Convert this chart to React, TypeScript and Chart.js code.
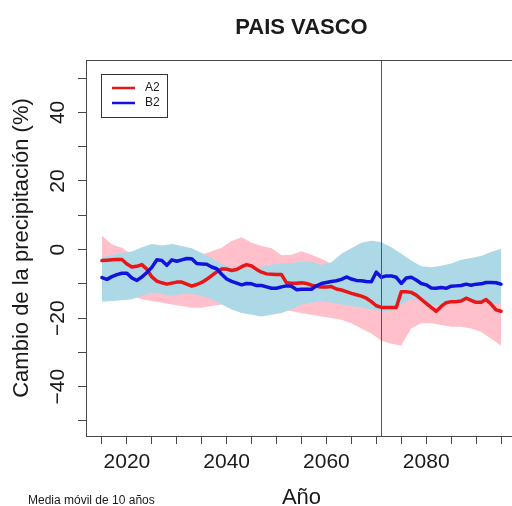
import React, { useEffect, useRef } from 'react';
import { Chart, registerables } from 'chart.js';

Chart.register(...registerables);

// ---------- data ----------
const years = [
  2015, 2016, 2017, 2018, 2019, 2020, 2021, 2022, 2023, 2024,
  2025, 2026, 2027, 2028, 2029, 2030, 2031, 2032, 2033, 2034,
  2035, 2036, 2037, 2038, 2039, 2040, 2041, 2042, 2043, 2044,
  2045, 2046, 2047, 2048, 2049, 2050, 2051, 2052, 2053, 2054,
  2055, 2056, 2057, 2058, 2059, 2060, 2061, 2062, 2063, 2064,
  2065, 2066, 2067, 2068, 2069, 2070, 2071, 2072, 2073, 2074,
  2075, 2076, 2077, 2078, 2079, 2080, 2081, 2082, 2083, 2084,
  2085, 2086, 2087, 2088, 2089, 2090, 2091, 2092, 2093, 2094,
  2095,
];

const a2 = [
  -3.2, -3.1, -3.0, -2.9, -2.9, -4.2, -5.1, -4.9, -4.4, -5.7,
  -8.0, -9.2, -9.7, -10.1, -9.8, -9.5, -9.5, -10.1, -10.7, -10.2,
  -9.6, -8.7, -7.6, -6.5, -5.7, -5.7, -6.1, -5.8, -5.0, -4.4,
  -4.8, -5.8, -6.6, -7.1, -7.2, -7.3, -7.3, -9.7, -9.8, -9.8,
  -9.7, -9.9, -10.4, -10.7, -10.9, -10.9, -10.8, -11.5, -11.8, -12.3,
  -12.8, -13.2, -13.6, -14.2, -15.2, -16.4, -16.9, -16.9, -16.9, -16.9,
  -12.3, -12.3, -12.5, -13.3, -14.5, -15.7, -16.9, -18.0, -16.6, -15.5,
  -15.2, -15.2, -15.0, -14.2, -14.8, -15.4, -15.4, -14.6, -15.9, -17.6,
  -18.0,
];

const b2 = [
  -8.2, -8.7, -7.9, -7.3, -6.9, -6.9, -8.3, -9.0, -8.0, -6.7,
  -5.2, -3.0, -3.2, -4.6, -3.0, -3.4, -3.0, -2.6, -2.7, -4.1,
  -4.2, -4.3, -5.1, -5.6, -7.2, -8.6, -9.3, -9.8, -10.3, -9.9,
  -10.0, -10.5, -10.5, -10.9, -11.3, -11.3, -10.9, -10.6, -10.7, -11.7,
  -11.6, -11.6, -11.6, -10.6, -9.9, -9.6, -9.3, -9.1, -8.7, -8.0,
  -8.6, -9.0, -9.1, -9.3, -9.4, -6.6, -8.1, -7.7, -7.7, -8.1,
  -9.9, -8.3, -8.1, -8.9, -9.9, -10.3, -11.2, -11.3, -11.1, -11.3,
  -10.7, -10.6, -10.5, -10.1, -10.4, -10.1, -10.0, -9.6, -9.6, -9.7,
  -10.1,
];

const bandYears = [
  2015, 2017, 2019, 2021, 2023, 2025, 2027, 2029, 2031, 2033,
  2035, 2037, 2039, 2041, 2043, 2045, 2047, 2049, 2051, 2053,
  2055, 2057, 2059, 2061, 2063, 2065, 2067, 2069, 2071, 2073,
  2075, 2077, 2079, 2081, 2083, 2085, 2087, 2089, 2091, 2093,
  2095,
];

const a2Upper = [
  4.0, 1.5, 0.5, -1.5, -2.5, -3.5, -3.0, -2.5, -2.5, -2.0,
  -1.5, -0.5, 0.5, 2.5, 3.6, 2.0, 1.0, 0.4, -1.7, -1.5,
  -0.5, -1.5, -2.7, -4.2, -5.5, -6.0, -6.5, -7.0, -7.5, -7.5,
  -5.0, -5.5, -7.0, -8.0, -8.0, -7.5, -7.5, -7.0, -7.0, -7.5,
  -8.0,
];

const a2Lower = [
  -13.0, -13.0, -13.0, -13.5, -14.5, -15.0, -15.5, -16.0, -16.5, -17.0,
  -17.0, -16.5, -16.0, -16.0, -16.0, -17.0, -17.5, -17.5, -17.5, -18.0,
  -18.5, -19.0, -19.5, -20.0, -20.5, -21.5, -23.0, -24.5, -26.6, -27.5,
  -28.0, -23.0, -21.5, -21.5, -22.0, -22.5, -22.5, -23.0, -24.0, -26.0,
  -28.0,
];

const b2Upper = [
  -2.2, -1.6, -1.0, -0.6, 0.7, 1.6, 1.2, 1.6, 1.0, 0.4,
  -1.0, -2.5, -4.2, -5.2, -5.5, -5.5, -5.0, -4.5, -4.0, -4.0,
  -3.5, -3.5, -4.5, -3.7, -1.2, 0.4, 2.0, 2.6, 2.1, 0.7,
  -1.2, -3.2, -4.9, -5.2, -4.7, -4.1, -3.0, -2.5, -1.9, -0.7,
  0.2,
];

const b2Lower = [
  -15.2, -15.0, -14.8, -14.5, -13.5, -12.5, -13.0, -13.5, -13.0, -13.0,
  -13.5, -14.5, -16.0, -17.5, -18.5, -19.0, -19.5, -19.0, -18.5, -17.5,
  -16.0, -15.5, -15.0, -15.5, -16.0, -16.5, -17.0, -17.5, -18.0, -18.0,
  -16.0, -14.5, -15.0, -16.5, -16.0, -15.5, -15.5, -15.0, -15.0, -15.5,
  -16.0,
];

const seriesLabels = ['A2', 'B2'];
const xTickLabels = [2020, 2040, 2060, 2080];
const yTickLabels = [-40, -20, 0, 20, 40];
const markerYear = 2071;
const xMin = 2011.8;
const xMax = 2098.2;
const yMin = -54.4;
const yMax = 55.3;

const titleText = 'PAIS VASCO';
const xTitleText = 'Año';
const yTitleText = 'Cambio de la precipitación (%)';
const footnoteText = 'Media móvil de 10 años';

// ---------- styles ----------
const FONT = "'Liberation Sans', Arial, Helvetica, sans-serif";
const RED = 'rgb(232,22,22)';
const BLUE = 'rgb(18,18,222)';
const PINK = '#FFC0CB';
const LIGHTBLUE = '#ADD8E6';
const FRAME = '#474747';
const TEXT = '#1a1a1a';
// the plot frame of the original runs a few pixels past the right edge of the picture
const CANVAS_W = 517;
const VIEW_W = 512;
const VIEW_H = 506;

const pts = (xs: number[], ys: number[]) => xs.map((x, i) => ({ x, y: ys[i] }));
const fmtNum = (v: number) => (v < 0 ? '\u2212' + Math.abs(v) : String(v));

const decorPlugin = {
  id: 'decor',
  afterDatasetsDraw(chart: any) {
    const { ctx, chartArea: ca, scales } = chart;
    ctx.save();
    // vertical reference line
    const vx = Math.round(scales.x.getPixelForValue(markerYear)) + 0.5;
    ctx.strokeStyle = '#555555';
    ctx.lineWidth = 1;
    ctx.beginPath();
    ctx.moveTo(vx, ca.top);
    ctx.lineTo(vx, ca.bottom);
    ctx.stroke();
    // top and right frame lines
    ctx.strokeStyle = FRAME;
    ctx.beginPath();
    ctx.moveTo(ca.left, Math.round(ca.top) + 0.5);
    ctx.lineTo(ca.right, Math.round(ca.top) + 0.5);
    ctx.lineTo(ca.right, ca.bottom);
    ctx.stroke();
    // legend box
    const lx = Math.round(ca.left) + 15;
    const ly = Math.round(ca.top) + 14;
    const lw = 66;
    const lh = 43;
    ctx.fillStyle = '#ffffff';
    ctx.fillRect(lx, ly, lw, lh);
    ctx.strokeStyle = '#333333';
    ctx.strokeRect(lx + 0.5, ly + 0.5, lw, lh);
    seriesLabels.forEach((lab, i) => {
      const ds = chart.data.datasets.find((d: any) => d.label === lab);
      const yy = ly + 14 + i * 15;
      ctx.strokeStyle = ds ? ds.borderColor : '#000';
      ctx.lineWidth = 2.5;
      ctx.beginPath();
      ctx.moveTo(lx + 11, yy);
      ctx.lineTo(lx + 34, yy);
      ctx.stroke();
      ctx.fillStyle = TEXT;
      ctx.font = `12px ${FONT}`;
      ctx.textAlign = 'left';
      ctx.textBaseline = 'middle';
      ctx.fillText(lab, lx + 44, yy);
    });
    ctx.restore();
  },
  afterDraw(chart: any) {
    const { ctx } = chart;
    ctx.save();
    ctx.fillStyle = TEXT;
    ctx.font = `12px ${FONT}`;
    ctx.textAlign = 'left';
    ctx.textBaseline = 'middle';
    ctx.fillText(footnoteText, 28, 501);
    ctx.restore();
  },
};

export default function App() {
  const ref = useRef<HTMLCanvasElement>(null);

  useEffect(() => {
    if (!ref.current) return;
    Chart.defaults.font.family = FONT;
    const chart = new Chart(ref.current, {
      type: 'line',
      data: {
        datasets: [
          {
            label: 'B2',
            data: pts(years, b2),
            borderColor: BLUE,
            borderWidth: 3.5,
            borderCapStyle: 'round',
            borderJoinStyle: 'round',
            pointRadius: 0,
            fill: false,
            tension: 0,
          },
          {
            label: 'A2',
            data: pts(years, a2),
            borderColor: RED,
            borderWidth: 3.5,
            borderCapStyle: 'round',
            borderJoinStyle: 'round',
            pointRadius: 0,
            fill: false,
            tension: 0,
          },
          {
            label: 'B2 max',
            data: pts(bandYears, b2Upper),
            borderColor: 'rgba(0,0,0,0)',
            borderWidth: 0,
            backgroundColor: LIGHTBLUE,
            pointRadius: 0,
            fill: '+1',
            tension: 0,
          },
          {
            label: 'B2 min',
            data: pts(bandYears, b2Lower),
            borderColor: 'rgba(0,0,0,0)',
            borderWidth: 0,
            pointRadius: 0,
            fill: false,
            tension: 0,
          },
          {
            label: 'A2 max',
            data: pts(bandYears, a2Upper),
            borderColor: 'rgba(0,0,0,0)',
            borderWidth: 0,
            backgroundColor: PINK,
            pointRadius: 0,
            fill: '+1',
            tension: 0,
          },
          {
            label: 'A2 min',
            data: pts(bandYears, a2Lower),
            borderColor: 'rgba(0,0,0,0)',
            borderWidth: 0,
            pointRadius: 0,
            fill: false,
            tension: 0,
          },
        ],
      },
      options: {
        responsive: false,
        animation: false,
        events: [],
        layout: { padding: 0 },
        plugins: {
          legend: { display: false },
          tooltip: { enabled: false },
          title: {
            display: true,
            text: titleText,
            fullSize: false,
            color: TEXT,
            font: { size: 22, weight: 'bold', family: FONT, lineHeight: 1.2 },
            padding: { top: 15, bottom: 18.6 },
          },
        },
        scales: {
          x: {
            type: 'linear',
            min: xMin,
            max: xMax,
            afterFit: (s: any) => {
              s.height = 70;
            },
            grid: {
              display: true,
              drawOnChartArea: false,
              drawTicks: true,
              tickLength: 8,
              color: FRAME,
              tickColor: FRAME,
            },
            border: { display: true, color: FRAME, width: 1 },
            ticks: {
              stepSize: 5,
              includeBounds: false,
              autoSkip: false,
              maxRotation: 0,
              minRotation: 0,
              padding: 6,
              color: TEXT,
              font: { size: 21, family: FONT },
              callback: (v: any) => (xTickLabels.includes(Number(v)) ? String(v) : ''),
            },
            title: {
              display: true,
              text: xTitleText,
              color: TEXT,
              font: { size: 22, family: FONT, lineHeight: 1 },
              padding: { top: 0, bottom: -3 },
            },
          },
          y: {
            type: 'linear',
            min: yMin,
            max: yMax,
            afterFit: (s: any) => {
              s.width = 86;
            },
            grid: {
              display: true,
              drawOnChartArea: false,
              drawTicks: true,
              tickLength: 8,
              color: FRAME,
              tickColor: FRAME,
            },
            border: { display: true, color: FRAME, width: 1 },
            ticks: {
              stepSize: 10,
              includeBounds: false,
              autoSkip: false,
              minRotation: 90,
              maxRotation: 90,
              crossAlign: 'center',
              padding: 1.5,
              color: TEXT,
              font: { size: 21, family: FONT },
              callback: (v: any) => (yTickLabels.includes(Number(v)) ? fmtNum(Number(v)) : ''),
            },
            title: {
              display: true,
              text: yTitleText,
              color: TEXT,
              font: { size: 22, family: FONT, lineHeight: 1 },
              padding: { top: 11, bottom: 0 },
            },
          },
        },
      } as any,
      plugins: [decorPlugin],
    });
    return () => chart.destroy();
  }, []);

  return (
    <div
      style={{
        position: 'fixed',
        left: 0,
        top: 0,
        width: VIEW_W,
        height: VIEW_H,
        overflow: 'hidden',
        background: '#ffffff',
      }}
    >
      <canvas
        ref={ref}
        width={CANVAS_W}
        height={VIEW_H}
        style={{ display: 'block', width: CANVAS_W, height: VIEW_H }}
      />
    </div>
  );
}
